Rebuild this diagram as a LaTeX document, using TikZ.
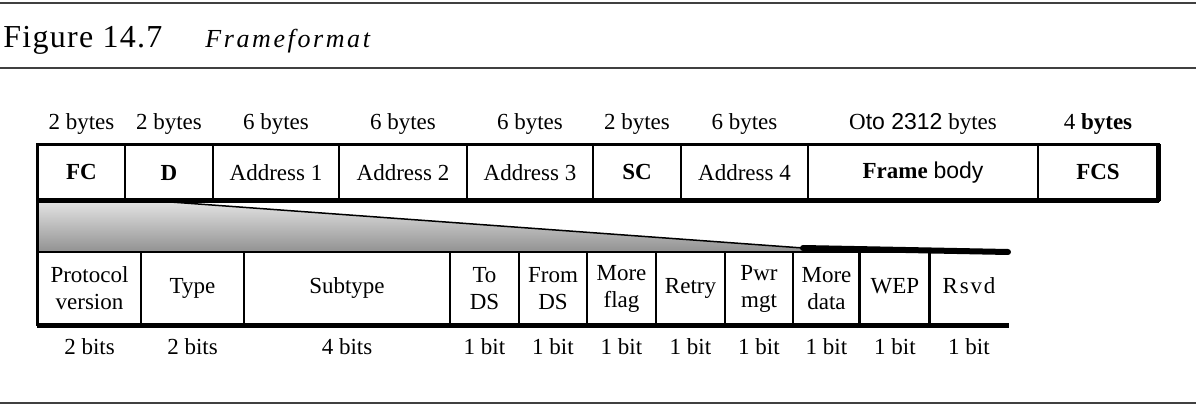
\documentclass[tikz,border=0pt]{standalone}
\usepackage{fontspec}
\setmainfont{Liberation Serif}
\setsansfont{Liberation Sans}
\usetikzlibrary{backgrounds,positioning}

\begin{document}
\begin{tikzpicture}[
  x=0.5pt,
  y=-0.5pt,
  every node/.style={font=\fontsize{11.5}{13.5}\selectfont},
  cell/.style={
    draw,
    line width=0.75pt,
    align=center,
    inner sep=0pt,
    minimum height=27.5pt
  },
  bitcell/.style={
    cell,
    minimum height=36.5pt
  },
  size/.style={
    inner sep=1pt,
    text height=8pt,
    text depth=2.5pt
  },
  rule/.style={draw=black!75, line width=0.8pt},
  frame/.style={line width=1.5pt},
  heavy/.style={line width=2.5pt}
]
\useasboundingbox (0,0) rectangle (1196,406);

\draw[rule] (0,3) -- (1196,3);
\draw[rule] (0,68) -- (1196,68);
\draw[rule] (0,403) -- (1196,403);
\node[anchor=base west, inner sep=0pt, font=\fontsize{16}{19}\selectfont\addfontfeatures{LetterSpace=4}] (fignum) at (3,48) {Figure 14.7};
\node[anchor=base west, inner sep=0pt, font=\fontsize{13}{16}\selectfont\itshape\addfontfeatures{LetterSpace=10}] (figtitle) at (205,48) {Frameformat};

\node[cell, minimum width=43.5pt] (fc) at (81.5,172.5) {\textbf{FC}};
\node[cell, minimum width=44pt] (d) at (169,172.5) {\textbf{D}};
\node[cell, minimum width=63pt] (addr1) at (276,172.5) {Address 1};
\node[cell, minimum width=64pt] (addr2) at (403,172.5) {Address 2};
\node[cell, minimum width=63pt] (addr3) at (530,172.5) {Address 3};
\node[cell, minimum width=44pt] (sc) at (637,172.5) {\textbf{SC}};
\node[cell, minimum width=63.5pt] (addr4) at (744.5,172.5) {Address 4};
\node[cell, minimum width=115pt] (body) at (923,172.5) {\textbf{Frame} {\sffamily body}};
\node[cell, minimum width=60pt] (fcs) at (1098,172.5) {\textbf{FCS}};

\node[size, above=3.75pt of fc] (fcsize) {2 bytes};
\node[size, above=3.75pt of d] (dsize) {2 bytes};
\node[size, above=3.75pt of addr1] (addr1size) {6 bytes};
\node[size, above=3.75pt of addr2] (addr2size) {6 bytes};
\node[size, above=3.75pt of addr3] (addr3size) {6 bytes};
\node[size, above=3.75pt of sc] (scsize) {2 bytes};
\node[size, above=3.75pt of addr4] (addr4size) {6 bytes};
\node[size, above=3.75pt of body] (bodysize) {O{\sffamily to 2312} bytes};
\node[size, above=3.75pt of fcs] (fcssize) {4 \textbf{bytes}};

\node[bitcell, minimum width=51.5pt] (pv) at (89.5,288.5) {Protocol\\version};
\node[bitcell, minimum width=51.5pt] (type) at (192.5,288.5) {Type};
\node[bitcell, minimum width=103pt] (subtype) at (347,288.5) {Subtype};
\node[bitcell, minimum width=34.5pt] (tods) at (484.5,288.5) {To\\DS};
\node[bitcell, minimum width=34pt] (fromds) at (553,288.5) {From\\DS};
\node[bitcell, minimum width=34.5pt] (moreflag) at (621.5,288.5) {More\\flag};
\node[bitcell, minimum width=34.5pt] (retry) at (690.5,288.5) {Retry};
\node[bitcell, minimum width=34pt] (pwrmgt) at (759,288.5) {Pwr\\mgt};
\node[bitcell, minimum width=33.5pt] (moredata) at (826.5,288.5) {More\\data};
\node[bitcell, minimum width=35pt] (wep) at (895,288.5) {\raisebox{3pt}{WEP}};
\node[bitcell, draw=none, minimum width=39pt] (rsvd) at (969,288.5) {\raisebox{3pt}{\addfontfeatures{LetterSpace=8}Rsvd}};

\node[size, below=5.25pt of pv] (pvsize) {2 bits};
\node[size, below=5.25pt of type] (typesize) {2 bits};
\node[size, below=5.25pt of subtype] (subtypesize) {4 bits};
\node[size, below=5.25pt of tods] (todssize) {1 bit};
\node[size, below=5.25pt of fromds] (fromdssize) {1 bit};
\node[size, below=5.25pt of moreflag] (moreflagsize) {1 bit};
\node[size, below=5.25pt of retry] (retrysize) {1 bit};
\node[size, below=5.25pt of pwrmgt] (pwrmgtsize) {1 bit};
\node[size, below=5.25pt of moredata] (moredatasize) {1 bit};
\node[size, below=5.25pt of wep] (wepsize) {1 bit};
\node[size, below=5.25pt of rsvd] (rsvdsize) {1 bit};

\coordinate (slantstart) at (143,200);
\coordinate (slantend) at (803,248);
\coordinate (tailend) at (1008,252);

\begin{scope}[on background layer]
  \shade[top color=gray!20, bottom color=gray!85] (fc.south west) -- (slantstart) -- (slantend) -- (slantend |- pv.north) -- (pv.north west) -- cycle;
\end{scope}
\draw[line width=0.75pt] (slantstart) -- (slantend);
\draw[line width=3pt, line cap=round] (slantend) -- (tailend);

\draw[frame] (fc.north west) rectangle (fcs.south east);
\draw[heavy] (fc.south west) -- (fcs.south east);
\draw[heavy] (fcs.north east) -- (fcs.south east);
\draw[frame] (fc.north west) -- (pv.south west);
\draw[heavy] (pv.south west) -- (rsvd.south east);
\draw[frame] (wep.north west) -- (wep.south west);
\draw[frame] (rsvd.north west) -- (rsvd.south west);
\end{tikzpicture}
\end{document}
